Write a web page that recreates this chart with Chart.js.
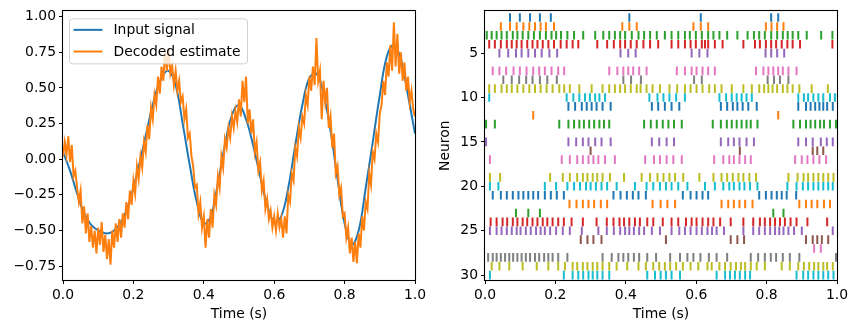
<!DOCTYPE html>
<html>
<head>
<meta charset="utf-8">
<script src="https://cdn.jsdelivr.net/npm/chart.js@4"></script>
<style>
  body { margin: 0; background: #fff; }
  #wrap { position: relative; width: 857px; height: 332px; }
  #signalBox { position: absolute; left: 0; top: 0; width: 430px; height: 332px; }
  #rasterBox { position: absolute; left: 430px; top: 0; width: 427px; height: 332px; }
</style>
</head>
<body>
<div id="wrap">
  <div id="signalBox"><canvas id="signalChart"></canvas></div>
  <div id="rasterBox"><canvas id="rasterChart"></canvas></div>
</div>
<script>
// input signal, read every 0.02 s
const inputTimes = [0.00, 0.02, 0.04, 0.06, 0.08, 0.10, 0.12, 0.14, 0.16, 0.18, 0.20, 0.22, 0.24, 0.26, 0.28, 0.30, 0.32, 0.34, 0.36, 0.38, 0.40, 0.42, 0.44, 0.46, 0.48, 0.50, 0.52, 0.54, 0.56, 0.58, 0.60, 0.62, 0.64, 0.66, 0.68, 0.70, 0.72, 0.74, 0.76, 0.78, 0.80, 0.82, 0.84, 0.86, 0.88, 0.90, 0.92, 0.94, 0.96, 0.98, 1.00];
const inputSignal = [0.05, -0.08, -0.24, -0.38, -0.46, -0.50, -0.52, -0.51, -0.46, -0.36, -0.20, 0.00, 0.22, 0.43, 0.57, 0.62, 0.52, 0.25, -0.04, -0.30, -0.45, -0.40, -0.17, 0.10, 0.31, 0.38, 0.28, 0.10, -0.12, -0.32, -0.44, -0.40, -0.20, 0.10, 0.38, 0.57, 0.60, 0.46, 0.20, -0.14, -0.45, -0.60, -0.50, -0.20, 0.12, 0.45, 0.72, 0.80, 0.70, 0.45, 0.18];

// decoded estimate, read every 0.005 s
const decodedTimes = [0.000, 0.005, 0.010, 0.015, 0.020, 0.025, 0.030, 0.035, 0.040, 0.045, 0.050, 0.055, 0.060, 0.065, 0.070, 0.075, 0.080, 0.085, 0.090, 0.095, 0.100, 0.105, 0.110, 0.115, 0.120, 0.125, 0.130, 0.135, 0.140, 0.145, 0.150, 0.155, 0.160, 0.165, 0.170, 0.175, 0.180, 0.185, 0.190, 0.195, 0.200, 0.205, 0.210, 0.215, 0.220, 0.225, 0.230, 0.235, 0.240, 0.245, 0.250, 0.255, 0.260, 0.265, 0.270, 0.275, 0.280, 0.285, 0.290, 0.295, 0.300, 0.305, 0.310, 0.315, 0.320, 0.325, 0.330, 0.335, 0.340, 0.345, 0.350, 0.355, 0.360, 0.365, 0.370, 0.375, 0.380, 0.385, 0.390, 0.395, 0.400, 0.405, 0.410, 0.415, 0.420, 0.425, 0.430, 0.435, 0.440, 0.445, 0.450, 0.455, 0.460, 0.465, 0.470, 0.475, 0.480, 0.485, 0.490, 0.495, 0.500, 0.505, 0.510, 0.515, 0.520, 0.525, 0.530, 0.535, 0.540, 0.545, 0.550, 0.555, 0.560, 0.565, 0.570, 0.575, 0.580, 0.585, 0.590, 0.595, 0.600, 0.605, 0.610, 0.615, 0.620, 0.625, 0.630, 0.635, 0.640, 0.645, 0.650, 0.655, 0.660, 0.665, 0.670, 0.675, 0.680, 0.685, 0.690, 0.695, 0.700, 0.705, 0.710, 0.715, 0.720, 0.725, 0.730, 0.735, 0.740, 0.745, 0.750, 0.755, 0.760, 0.765, 0.770, 0.775, 0.780, 0.785, 0.790, 0.795, 0.800, 0.805, 0.810, 0.815, 0.820, 0.825, 0.830, 0.835, 0.840, 0.845, 0.850, 0.855, 0.860, 0.865, 0.870, 0.875, 0.880, 0.885, 0.890, 0.895, 0.900, 0.905, 0.910, 0.915, 0.920, 0.925, 0.930, 0.935, 0.940, 0.945, 0.950, 0.955, 0.960, 0.965, 0.970, 0.975, 0.980, 0.985, 0.990, 0.995, 1.000];
const decodedEstimate = [0.02, 0.12, 0.03, 0.16, -0.02, 0.10, -0.12, -0.08, -0.20, -0.30, -0.22, -0.45, -0.33, -0.52, -0.38, -0.58, -0.47, -0.62, -0.50, -0.66, -0.48, -0.60, -0.44, -0.65, -0.53, -0.70, -0.56, -0.74, -0.50, -0.62, -0.45, -0.58, -0.42, -0.55, -0.38, -0.48, -0.30, -0.42, -0.22, -0.32, -0.15, -0.24, -0.05, -0.14, 0.02, -0.06, 0.12, 0.05, 0.24, 0.14, 0.36, 0.28, 0.45, 0.38, 0.58, 0.46, 0.65, 0.55, 0.76, 0.62, 0.78, 0.60, 0.66, 0.52, 0.62, 0.48, 0.55, 0.40, 0.44, 0.28, 0.35, 0.15, 0.18, 0.02, -0.05, -0.20, -0.18, -0.38, -0.30, -0.48, -0.40, -0.62, -0.42, -0.55, -0.35, -0.48, -0.25, -0.32, -0.12, -0.20, 0.02, -0.06, 0.14, 0.08, 0.22, 0.15, 0.30, 0.22, 0.34, 0.26, 0.42, 0.30, 0.55, 0.40, 0.58, 0.25, 0.35, 0.18, 0.28, 0.05, 0.12, -0.08, -0.02, -0.22, -0.15, -0.35, -0.28, -0.42, -0.36, -0.48, -0.40, -0.50, -0.38, -0.48, -0.42, -0.55, -0.40, -0.52, -0.25, -0.30, -0.10, -0.15, 0.08, 0.02, 0.22, 0.15, 0.30, 0.25, 0.45, 0.38, 0.58, 0.48, 0.65, 0.52, 0.85, 0.55, 0.62, 0.28, 0.55, 0.40, 0.50, 0.22, 0.30, 0.08, 0.18, -0.10, -0.05, -0.25, -0.20, -0.40, -0.38, -0.55, -0.48, -0.66, -0.55, -0.72, -0.58, -0.73, -0.52, -0.62, -0.40, -0.50, -0.30, -0.35, -0.10, -0.18, 0.05, 0.00, 0.18, 0.12, 0.32, 0.38, 0.55, 0.45, 0.68, 0.58, 0.80, 0.62, 0.96, 0.65, 0.88, 0.60, 0.75, 0.55, 0.68, 0.48, 0.58, 0.40, 0.48, 0.35, 0.30];

const timeTicks = [0, 0.2, 0.4, 0.6, 0.8, 1.0];
const signalTicks = [-0.75, -0.5, -0.25, 0, 0.25, 0.5, 0.75, 1.0];
const neuronTicks = [5, 10, 15, 20, 25, 30];

// spike times (s), one list per neuron 1..30
const spikeTimes = [
  [0.071, 0.099, 0.128, 0.156, 0.187, 0.410, 0.613, 0.813, 0.833],
  [0.045, 0.071, 0.090, 0.109, 0.126, 0.142, 0.158, 0.173, 0.196, 0.390, 0.410, 0.431, 0.592, 0.613, 0.634, 0.798, 0.814, 0.830, 0.848],
  [0.005, 0.019, 0.033, 0.047, 0.062, 0.079, 0.092, 0.107, 0.123, 0.139, 0.156, 0.173, 0.189, 0.202, 0.216, 0.234, 0.253, 0.279, 0.313, 0.336, 0.353, 0.369, 0.384, 0.398, 0.417, 0.436, 0.452, 0.469, 0.488, 0.511, 0.530, 0.549, 0.568, 0.582, 0.599, 0.616, 0.634, 0.649, 0.666, 0.688, 0.717, 0.746, 0.764, 0.779, 0.795, 0.813, 0.830, 0.846, 0.860, 0.874, 0.890, 0.914, 0.955, 0.987],
  [0.012, 0.028, 0.045, 0.062, 0.076, 0.090, 0.104, 0.120, 0.135, 0.149, 0.164, 0.180, 0.196, 0.215, 0.232, 0.249, 0.265, 0.319, 0.347, 0.366, 0.384, 0.398, 0.414, 0.431, 0.450, 0.469, 0.492, 0.530, 0.549, 0.568, 0.584, 0.599, 0.616, 0.625, 0.634, 0.653, 0.675, 0.734, 0.767, 0.781, 0.798, 0.813, 0.827, 0.843, 0.859, 0.874, 0.895, 0.987],
  [0.041, 0.066, 0.088, 0.104, 0.123, 0.142, 0.161, 0.183, 0.205, 0.385, 0.407, 0.428, 0.587, 0.609, 0.632, 0.797, 0.813, 0.830, 0.850],
  [],
  [0.022, 0.041, 0.060, 0.081, 0.099, 0.118, 0.137, 0.154, 0.170, 0.189, 0.208, 0.225, 0.353, 0.376, 0.393, 0.407, 0.421, 0.438, 0.459, 0.545, 0.568, 0.587, 0.601, 0.618, 0.634, 0.653, 0.770, 0.791, 0.805, 0.819, 0.833, 0.846, 0.862, 0.885],
  [0.052, 0.076, 0.097, 0.117, 0.135, 0.156, 0.177, 0.204, 0.393, 0.415, 0.443, 0.594, 0.616, 0.803, 0.821, 0.838, 0.862],
  [0.012, 0.028, 0.047, 0.062, 0.076, 0.092, 0.109, 0.126, 0.142, 0.158, 0.175, 0.192, 0.211, 0.225, 0.241, 0.268, 0.303, 0.334, 0.353, 0.369, 0.384, 0.398, 0.414, 0.431, 0.442, 0.459, 0.476, 0.497, 0.524, 0.546, 0.568, 0.584, 0.601, 0.618, 0.637, 0.653, 0.672, 0.701, 0.734, 0.758, 0.779, 0.793, 0.805, 0.817, 0.830, 0.846, 0.859, 0.874, 0.893, 0.928, 0.974],
  [0.012, 0.232, 0.251, 0.268, 0.284, 0.298, 0.313, 0.325, 0.341, 0.467, 0.490, 0.507, 0.524, 0.543, 0.568, 0.666, 0.685, 0.701, 0.715, 0.729, 0.743, 0.758, 0.890, 0.906, 0.918, 0.933, 0.947, 0.961, 0.980, 0.994],
  [0.237, 0.256, 0.275, 0.289, 0.303, 0.317, 0.334, 0.357, 0.474, 0.492, 0.511, 0.530, 0.552, 0.670, 0.688, 0.704, 0.717, 0.732, 0.748, 0.772, 0.890, 0.912, 0.925, 0.938, 0.950, 0.961, 0.972, 0.988],
  [0.137, 0.833],
  [0.003, 0.028, 0.211, 0.237, 0.253, 0.268, 0.281, 0.296, 0.310, 0.325, 0.338, 0.353, 0.452, 0.471, 0.488, 0.505, 0.521, 0.537, 0.559, 0.647, 0.670, 0.687, 0.701, 0.715, 0.729, 0.743, 0.755, 0.774, 0.876, 0.895, 0.912, 0.925, 0.938, 0.952, 0.963, 0.980, 0.997],
  [],
  [0.003, 0.237, 0.259, 0.278, 0.294, 0.313, 0.331, 0.357, 0.474, 0.495, 0.516, 0.537, 0.670, 0.691, 0.707, 0.723, 0.743, 0.764, 0.890, 0.912, 0.931, 0.954, 0.971, 0.988],
  [0.300, 0.724, 0.931, 0.944, 0.961],
  [0.014, 0.218, 0.241, 0.262, 0.278, 0.294, 0.308, 0.322, 0.341, 0.369, 0.455, 0.480, 0.497, 0.516, 0.535, 0.559, 0.651, 0.677, 0.694, 0.707, 0.723, 0.739, 0.755, 0.881, 0.900, 0.916, 0.933, 0.950, 0.969],
  [],
  [0.014, 0.043, 0.185, 0.221, 0.241, 0.262, 0.278, 0.291, 0.306, 0.319, 0.334, 0.355, 0.395, 0.445, 0.469, 0.490, 0.507, 0.524, 0.540, 0.563, 0.609, 0.649, 0.672, 0.688, 0.704, 0.720, 0.734, 0.751, 0.770, 0.862, 0.888, 0.905, 0.918, 0.933, 0.947, 0.961, 0.975, 0.990],
  [0.014, 0.038, 0.170, 0.202, 0.234, 0.253, 0.270, 0.287, 0.300, 0.315, 0.331, 0.347, 0.374, 0.426, 0.459, 0.478, 0.497, 0.514, 0.530, 0.549, 0.575, 0.625, 0.653, 0.677, 0.694, 0.707, 0.723, 0.737, 0.753, 0.774, 0.859, 0.885, 0.903, 0.918, 0.933, 0.947, 0.961, 0.975, 0.988],
  [0.022, 0.045, 0.062, 0.079, 0.095, 0.109, 0.123, 0.137, 0.151, 0.170, 0.187, 0.204, 0.224, 0.365, 0.385, 0.403, 0.420, 0.436, 0.457, 0.562, 0.584, 0.601, 0.618, 0.634, 0.779, 0.798, 0.814, 0.829, 0.843, 0.857, 0.884],
  [0.240, 0.260, 0.278, 0.294, 0.310, 0.329, 0.347, 0.476, 0.499, 0.518, 0.540, 0.672, 0.691, 0.707, 0.723, 0.739, 0.760, 0.893, 0.912, 0.928, 0.944, 0.963, 0.980],
  [0.088, 0.123, 0.156, 0.819, 0.848],
  [0.016, 0.033, 0.050, 0.063, 0.079, 0.092, 0.107, 0.120, 0.135, 0.149, 0.164, 0.177, 0.192, 0.208, 0.224, 0.246, 0.278, 0.317, 0.346, 0.365, 0.382, 0.395, 0.410, 0.426, 0.440, 0.461, 0.478, 0.505, 0.530, 0.549, 0.571, 0.587, 0.601, 0.618, 0.634, 0.649, 0.668, 0.698, 0.734, 0.762, 0.781, 0.795, 0.810, 0.824, 0.838, 0.852, 0.868, 0.885, 0.916, 0.972],
  [0.014, 0.033, 0.047, 0.062, 0.076, 0.090, 0.101, 0.116, 0.130, 0.145, 0.158, 0.170, 0.185, 0.202, 0.221, 0.241, 0.275, 0.322, 0.346, 0.366, 0.384, 0.398, 0.410, 0.423, 0.438, 0.452, 0.474, 0.497, 0.530, 0.552, 0.568, 0.584, 0.601, 0.616, 0.632, 0.645, 0.658, 0.679, 0.734, 0.762, 0.779, 0.795, 0.810, 0.824, 0.836, 0.848, 0.862, 0.878, 0.900, 0.988],
  [0.272, 0.291, 0.308, 0.331, 0.514, 0.698, 0.717, 0.736, 0.912, 0.931, 0.944, 0.957, 0.975],
  [0.935, 0.954],
  [0.009, 0.022, 0.033, 0.045, 0.057, 0.069, 0.080, 0.092, 0.104, 0.116, 0.128, 0.142, 0.154, 0.168, 0.180, 0.192, 0.208, 0.234, 0.334, 0.360, 0.379, 0.393, 0.407, 0.423, 0.438, 0.461, 0.486, 0.526, 0.554, 0.575, 0.592, 0.612, 0.636, 0.658, 0.688, 0.755, 0.776, 0.795, 0.812, 0.827, 0.846, 0.866, 0.893, 0.997],
  [0.019, 0.041, 0.069, 0.107, 0.147, 0.180, 0.208, 0.227, 0.249, 0.262, 0.278, 0.291, 0.306, 0.319, 0.334, 0.353, 0.374, 0.404, 0.436, 0.457, 0.478, 0.495, 0.511, 0.526, 0.543, 0.562, 0.584, 0.606, 0.632, 0.644, 0.666, 0.682, 0.698, 0.713, 0.727, 0.739, 0.755, 0.772, 0.795, 0.843, 0.866, 0.890, 0.906, 0.921, 0.935, 0.947, 0.961, 0.972, 0.988],
  [0.014, 0.224, 0.249, 0.265, 0.279, 0.294, 0.306, 0.319, 0.334, 0.353, 0.461, 0.483, 0.499, 0.514, 0.530, 0.554, 0.658, 0.682, 0.696, 0.710, 0.724, 0.739, 0.753, 0.885, 0.904, 0.918, 0.933, 0.947, 0.961, 0.975, 0.990]
];

const tab10 = ["#1f77b4", "#ff7f0e", "#2ca02c", "#d62728", "#9467bd", "#8c564b", "#e377c2", "#7f7f7f", "#bcbd22", "#17becf"];
const FONT = { family: "'DejaVu Sans', sans-serif", size: 13.9 };

function minusFmt(s) {
  return s.replace("-", "\u2212");
}

// black box round the plot area, like matplotlib spines
const framePlugin = {
  id: "frame",
  afterDatasetsDraw(chart) {
    const a = chart.chartArea;
    const c = chart.ctx;
    c.save();
    c.strokeStyle = "#000";
    c.lineWidth = 1.1;
    c.strokeRect(Math.round(a.left) - 0.5, Math.round(a.top) - 0.5, Math.round(a.right - a.left) + 1, Math.round(a.bottom - a.top) + 1);
    c.restore();
  }
};

// legend drawn inside the upper left corner
const insideLegend = {
  id: "insideLegend",
  afterDraw(chart) {
    const a = chart.chartArea;
    const c = chart.ctx;
    const x = a.left + 6.5, y = a.top + 7.5;
    c.save();
    c.fillStyle = "rgba(255,255,255,0.8)";
    c.strokeStyle = "#d0d0d0";
    c.lineWidth = 1;
    c.beginPath();
    c.roundRect(x, y, 178, 45, 3);
    c.fill();
    c.stroke();
    c.font = "13.9px 'DejaVu Sans'";
    c.textBaseline = "middle";
    chart.data.datasets.forEach((ds, i) => {
      const ly = y + 11 + i * 21.7;
      c.strokeStyle = ds.borderColor;
      c.lineWidth = 2;
      c.beginPath();
      c.moveTo(a.left + 10.5, ly);
      c.lineTo(a.left + 39.5, ly);
      c.stroke();
      c.fillStyle = "#000";
      c.fillText(ds.label, a.left + 50.5, ly + 1);
    });
    c.restore();
  }
};

function tickGrid() {
  return { display: true, drawOnChartArea: false, drawTicks: true, tickLength: 4, tickColor: "#000", tickWidth: 1 };
}

function setTicks(values) {
  return (scale) => { scale.ticks = values.map((v) => ({ value: v })); };
}

Chart.defaults.font = FONT;
Chart.defaults.color = "#000";

new Chart(document.getElementById("signalChart").getContext("2d"), {
  type: "line",
  data: {
    datasets: [
      {
        label: "Input signal",
        data: inputTimes.map((t, i) => ({ x: t, y: inputSignal[i] })),
        borderColor: "#1f77b4",
        borderWidth: 2,
        pointRadius: 0,
        tension: 0.4,
        order: 1,
      },
      {
        label: "Decoded estimate",
        data: decodedTimes.map((t, i) => ({ x: t, y: decodedEstimate[i] })),
        borderColor: "#ff7f0e",
        borderWidth: 2,
        pointRadius: 0,
        tension: 0,
        order: 0,
      },
    ],
  },
  options: {
    responsive: true,
    maintainAspectRatio: false,
    animation: false,
    events: [],
    layout: { padding: { left: 0, top: 9, right: 15, bottom: 0 } },
    plugins: { legend: { display: false }, tooltip: { enabled: false } },
    scales: {
      x: {
        type: "linear",
        min: 0,
        max: 1,
        grid: tickGrid(),
        border: { display: false },
        afterBuildTicks: setTicks(timeTicks),
        afterFit: (s) => { s.height = 52; },
        ticks: { padding: 3, maxRotation: 0, callback: (v) => v.toFixed(1) },
        title: { display: true, text: "Time (s)", padding: { top: 0, bottom: 9 } },
      },
      y: {
        min: -0.847,
        max: 1.037,
        grid: tickGrid(),
        border: { display: false },
        afterBuildTicks: setTicks(signalTicks),
        afterFit: (s) => { s.width = 63; },
        ticks: { padding: 3, callback: (v) => minusFmt(v.toFixed(2)) },
      },
    },
  },
  plugins: [framePlugin, insideLegend],
});

new Chart(document.getElementById("rasterChart").getContext("2d"), {
  type: "scatter",
  data: {
    datasets: spikeTimes.map((times, i) => ({
      label: "Neuron " + (i + 1),
      data: times.map((t) => ({ x: t, y: i + 1 })),
      pointStyle: "line",
      rotation: 90,
      pointRadius: 4.3,
      borderColor: tab10[i % 10],
      backgroundColor: tab10[i % 10],
      pointBorderWidth: 2,
    })),
  },
  options: {
    responsive: true,
    maintainAspectRatio: false,
    animation: false,
    events: [],
    layout: { padding: { left: 0, top: 9, right: 20, bottom: 0 } },
    plugins: { legend: { display: false }, tooltip: { enabled: false } },
    scales: {
      x: {
        type: "linear",
        min: 0,
        max: 1,
        grid: tickGrid(),
        border: { display: false },
        afterBuildTicks: setTicks(timeTicks),
        afterFit: (s) => { s.height = 52; },
        ticks: { padding: 3, maxRotation: 0, callback: (v) => v.toFixed(1) },
        title: { display: true, text: "Time (s)", padding: { top: 0, bottom: 9 } },
      },
      y: {
        reverse: true,
        min: 0.3,
        max: 30.55,
        grid: tickGrid(),
        border: { display: false },
        afterBuildTicks: setTicks(neuronTicks),
        afterFit: (s) => { s.width = 55; },
        ticks: { padding: 3, callback: (v) => String(v) },
        title: { display: true, text: "Neuron", padding: { top: 7, bottom: 0 } },
      },
    },
  },
  plugins: [framePlugin],
});
</script>
</body>
</html>
